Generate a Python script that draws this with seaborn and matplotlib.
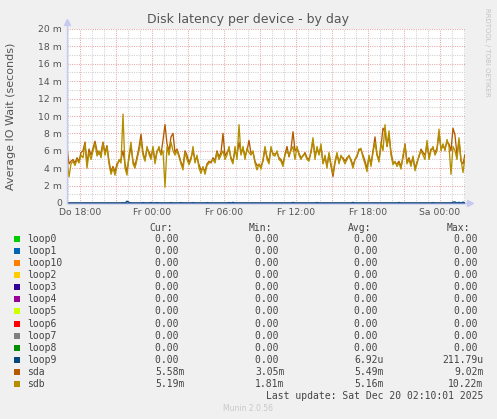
import pandas as pd
import matplotlib
matplotlib.use('Agg')
import matplotlib.pyplot as plt
import matplotlib.dates as mdates
from matplotlib.ticker import FuncFormatter
from matplotlib.patches import Rectangle
import seaborn as sns

sns.set_theme(style='white')
plt.rcParams['font.family'] = ['DejaVu Sans']

# 10 minute samples, Thu 18 Dec 2025 16:55 -> Sat 20 Dec 02:05 (values in ms)
start_time = '2025-12-18 16:55'
sample_step = '10min'

sda = [6.3, 4.5, 4.8, 5.0, 4.6, 5.2, 4.8, 5.8, 6.0, 7.0,
       4.5, 6.2, 5.5, 6.3, 7.1, 6.0, 5.6, 5.8, 7.0, 5.8,
       6.6, 4.8, 3.6, 4.2, 3.6, 4.5, 4.8, 5.0, 6.0, 4.5,
       3.6, 5.2, 6.5, 4.8, 4.3, 5.3, 6.4, 7.9, 5.8, 5.0,
       6.2, 5.9, 5.3, 6.3, 4.8, 6.0, 6.2, 5.6, 7.2, 9.02,
       6.8, 6.0, 7.6, 8.0, 5.8, 6.2, 5.5, 4.7, 4.2, 6.0,
       5.5, 4.6, 5.2, 6.0, 5.0, 5.2, 4.4, 3.8, 4.0, 3.7,
       4.5, 4.8, 4.6, 5.2, 4.9, 6.0, 5.3, 5.8, 8.0, 5.4,
       5.8, 6.2, 5.2, 4.8, 6.0, 5.5, 7.0, 5.7, 6.3, 5.4,
       6.0, 7.2, 5.7, 5.8, 4.8, 4.3, 4.4, 4.2, 4.8, 6.3,
       5.3, 4.8, 6.2, 5.7, 5.6, 5.8, 5.2, 5.0, 4.5, 5.6,
       6.5, 5.3, 6.2, 8.2, 6.0, 6.3, 5.7, 5.2, 5.4, 5.8,
       5.2, 5.0, 5.8, 7.2, 5.4, 6.2, 5.7, 6.4, 4.6, 5.2,
       4.3, 5.6, 4.2, 3.05, 4.6, 5.6, 4.7, 5.3, 5.2, 4.8,
       5.2, 5.4, 5.0, 4.3, 5.0, 5.3, 6.2, 6.1, 5.5, 4.8,
       4.0, 5.3, 4.5, 6.0, 7.6, 5.6, 5.0, 6.5, 8.6, 8.2,
       6.5, 7.8, 5.8, 4.7, 4.6, 4.5, 4.8, 4.2, 5.2, 6.8,
       4.7, 5.2, 4.5, 5.2, 4.0, 4.7, 5.3, 6.2, 5.8, 5.5,
       6.8, 5.3, 6.2, 6.2, 5.8, 6.3, 8.0, 6.3, 6.5, 6.3,
       7.0, 6.8, 6.0, 8.6, 7.8, 5.5, 7.2, 4.8, 4.5, 5.58]

sdb = [5.0, 3.0, 4.5, 4.8, 4.3, 5.0, 4.6, 5.5, 5.2, 6.8,
       4.0, 5.8, 5.0, 6.0, 6.8, 5.4, 6.0, 5.2, 6.8, 5.5,
       6.4, 4.5, 3.3, 4.0, 3.2, 4.2, 5.0, 4.6, 10.22, 4.0,
       3.2, 5.5, 7.0, 4.5, 4.0, 5.0, 6.0, 7.2, 5.5, 4.8,
       6.5, 5.6, 5.0, 6.5, 4.5, 5.8, 6.5, 5.5, 6.0, 1.81,
       6.5, 5.5, 7.0, 6.0, 5.5, 6.0, 5.3, 4.5, 3.8, 5.8,
       5.0, 4.4, 5.0, 6.5, 4.6, 5.5, 4.0, 3.4, 4.2, 3.3,
       4.3, 4.6, 4.8, 5.0, 4.6, 5.8, 5.0, 5.5, 6.0, 5.0,
       5.5, 6.5, 5.0, 4.5, 6.5, 5.0, 9.0, 5.5, 6.5, 5.0,
       6.3, 5.8, 5.5, 6.0, 4.6, 3.8, 4.5, 3.9, 5.0, 6.5,
       5.0, 4.5, 6.5, 5.5, 5.4, 6.0, 5.0, 4.8, 4.2, 5.5,
       6.0, 5.5, 6.0, 6.5, 5.0, 6.5, 5.5, 5.0, 5.5, 5.6,
       5.0, 4.8, 6.0, 7.5, 5.0, 6.5, 5.5, 6.8, 4.5, 5.5,
       4.0, 5.8, 4.5, 3.4, 4.8, 5.8, 4.5, 5.5, 5.0, 4.5,
       5.0, 5.5, 4.8, 4.0, 5.0, 5.5, 6.0, 6.3, 5.2, 4.5,
       3.6, 5.5, 4.2, 5.8, 7.0, 5.5, 4.7, 7.0, 6.0, 9.0,
       6.5, 8.3, 5.5, 4.4, 4.8, 4.2, 4.6, 3.9, 5.5, 6.6,
       4.5, 5.0, 4.2, 5.4, 3.7, 4.5, 5.5, 6.0, 5.5, 5.0,
       7.2, 5.0, 6.0, 6.5, 5.5, 6.0, 8.5, 6.0, 6.8, 6.0,
       7.3, 6.5, 3.3, 6.5, 6.0, 5.0, 7.5, 5.0, 3.5, 5.19]

loop9 = [0, 0, 0, 0, 0, 0, 0, 0, 0, 0, 0, 0, 0, 0, 0, 0, 0, 0, 0, 0,
         0, 0, 0, 0, 0, 0, 0, 0, 0.05, 0, 0.21, 0.08, 0, 0, 0, 0, 0, 0, 0.05, 0,
         0, 0, 0.06, 0, 0, 0.05, 0, 0, 0, 0, 0, 0, 0.05, 0, 0, 0, 0, 0.05, 0, 0,
         0, 0, 0, 0.05, 0, 0, 0, 0, 0, 0, 0.05, 0, 0, 0, 0, 0, 0, 0, 0, 0,
         0, 0.06, 0, 0.08, 0, 0, 0, 0, 0, 0, 0, 0, 0, 0, 0, 0, 0, 0, 0, 0,
         0, 0, 0, 0, 0, 0, 0, 0, 0, 0, 0, 0, 0, 0.07, 0, 0, 0, 0, 0, 0,
         0, 0, 0, 0, 0, 0.06, 0, 0, 0, 0, 0, 0, 0, 0, 0, 0, 0, 0, 0, 0,
         0, 0, 0, 0.07, 0, 0, 0, 0, 0, 0, 0, 0, 0, 0, 0, 0, 0, 0, 0, 0,
         0, 0, 0, 0, 0, 0, 0.06, 0, 0, 0, 0, 0, 0, 0, 0, 0, 0, 0, 0, 0,
         0, 0, 0, 0.05, 0, 0, 0, 0, 0, 0, 0, 0, 0, 0.1, 0.12, 0, 0.08, 0, 0.1, 0]

idle_loop = [0.0] * len(sda)   # loop0..loop8 stayed at zero all day

devices = ['loop0', 'loop1', 'loop10', 'loop2', 'loop3', 'loop4', 'loop5',
           'loop6', 'loop7', 'loop8', 'loop9', 'sda', 'sdb']
colors = ['#00CC00', '#0066B3', '#FF8000', '#FFCC00', '#330099', '#990099',
          '#CCFF00', '#FF0000', '#808080', '#008F00', '#00487D', '#B35A00',
          '#B38F00']
cur_txt = ['0.00 '] * 11 + ['5.58m', '5.19m']
min_txt = ['0.00 '] * 11 + ['3.05m', '1.81m']
avg_txt = ['0.00 '] * 10 + ['6.92u', '5.49m', '5.16m']
max_txt = ['0.00 '] * 10 + ['211.79u', '9.02m', '10.22m']

series = {d: idle_loop for d in devices[:10]}
series['loop9'] = loop9
series['sda'] = sda
series['sdb'] = sdb

times = pd.date_range(start_time, periods=len(sda), freq=sample_step)
df = pd.concat([pd.DataFrame({'time': times, 'value': series[d], 'device': d})
                for d in devices], ignore_index=True)

W, H = 497, 419
fig = plt.figure(figsize=(W / 100, H / 100), dpi=100, facecolor='#f0f0f0')
ax = fig.add_axes([67 / W, 1 - 203 / H, 398 / W, 174 / H], facecolor='white')

# grid: hourly gray, every 3h red; 1 m gray, every 2 m red
red_grid, gray_grid = '#e8a8a8', '#d0d0d0'
for t in pd.date_range('2025-12-18 17:00', '2025-12-20 02:00', freq='h'):
    c = red_grid if t.hour % 3 == 0 else gray_grid
    ax.axvline(t, color=c, lw=0.75, ls=(0, (1, 1.2)), zorder=0)
for v in range(1, 21):
    c = red_grid if v % 2 == 0 else gray_grid
    ax.axhline(v, color=c, lw=0.75, ls=(0, (1, 1.2)), zorder=0)

sns.lineplot(data=df, x='time', y='value', hue='device', hue_order=devices,
             palette=dict(zip(devices, colors)), estimator=None, legend=False,
             linewidth=0.95, ax=ax)

ax.set_xlim(times[0], times[-1])
ax.set_ylim(0, 20)
ax.set_yticks(range(0, 21, 2))
ax.yaxis.set_major_formatter(FuncFormatter(lambda v, p: '0' if v == 0 else f'{v:g} m'))

day_abbr = ['Mo', 'Di', 'Mi', 'Do', 'Fr', 'Sa', 'So']
def fmt_time(v, p):
    d = mdates.num2date(v)
    return day_abbr[d.weekday()] + ' ' + d.strftime('%H:%M')
ax.xaxis.set_major_locator(mdates.HourLocator(byhour=[0, 6, 12, 18]))
ax.xaxis.set_major_formatter(FuncFormatter(fmt_time))
ax.tick_params(length=0, labelsize=6.7, colors='#555555', pad=3.5)
ax.set_xlabel('')
ax.set_ylabel('Average IO Wait (seconds)', fontsize=8, color='#555555')
ax.yaxis.set_label_coords(-51 / 398, 0.5)
for s in ax.spines.values():
    s.set_visible(False)

# axis lines with arrows
ax.plot([0, 0], [0, 1.04], transform=ax.transAxes, clip_on=False, color='#c8c8f0', lw=1, zorder=4)
ax.plot([0], [1.04], transform=ax.transAxes, clip_on=False, marker='^', ms=5, color='#c8c8f0', zorder=4)
ax.plot([1.0, 1.012], [0, 0], transform=ax.transAxes, clip_on=False, color='#c8c8f0', lw=1, zorder=4)
ax.plot([1.012], [0], transform=ax.transAxes, clip_on=False, marker='>', ms=5, color='#c8c8f0', zorder=4)
ax.plot([0, 1.0], [0, 0], transform=ax.transAxes, clip_on=False, color='#7088c8', lw=1, zorder=3)

def ftext(x, y, s, **kw):
    fig.text(x / W, 1 - y / H, s, va='center', **kw)

ftext(248, 19, 'Disk latency per device - by day', ha='center', fontsize=9, color='#555555')
ftext(487, 52, 'RRDTOOL / TOBI OETIKER', ha='center', fontsize=5, color='#c4c4c4', rotation=270)

mono = dict(family='DejaVu Sans Mono', fontsize=7, color='#444444')
ftext(172.5, 228, 'Cur:', ha='right', **mono)
ftext(272.5, 228, 'Min:', ha='right', **mono)
ftext(371.5, 228, 'Avg:', ha='right', **mono)
ftext(470.5, 228, 'Max:', ha='right', **mono)
for i, d in enumerate(devices):
    y = 239.3 + 12.03 * i
    fig.add_artist(Rectangle((14 / W, 1 - (y + 3) / H), 6 / W, 6 / H,
                             transform=fig.transFigure, color=colors[i], lw=0))
    ftext(27, y, d, ha='left', **mono)
    ftext(184.6, y, cur_txt[i], ha='right', **mono)
    ftext(284.6, y, min_txt[i], ha='right', **mono)
    ftext(383.6, y, avg_txt[i], ha='right', **mono)
    ftext(483.3, y, max_txt[i], ha='right', **mono)
ftext(483.3, 395.7, 'Last update: Sat Dec 20 02:10:01 2025', ha='right', **mono)
ftext(248, 408, 'Munin 2.0.56', ha='center', fontsize=5.5, color='#c8c8c8')

fig.savefig('out.png', dpi=100, facecolor=fig.get_facecolor())
